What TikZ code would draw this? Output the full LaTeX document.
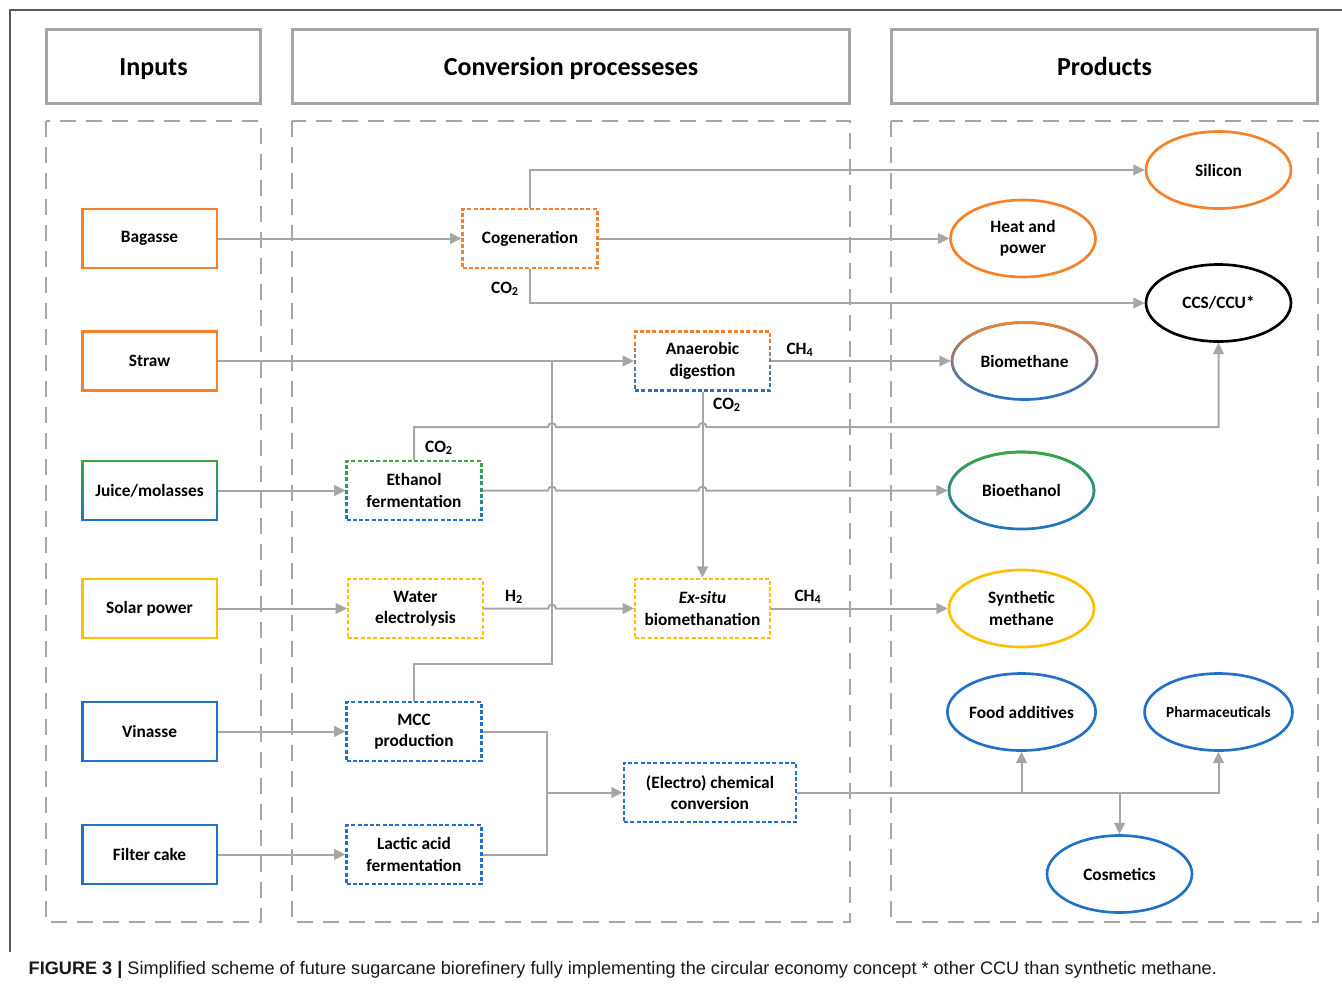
\documentclass[tikz,border=0pt]{standalone}
\usepackage{fontspec}
\setmainfont{Carlito}
\newfontfamily\capfont{Liberation Sans}
\usetikzlibrary{positioning, arrows.meta, shapes.geometric, fadings}

\definecolor{orng}{HTML}{F5822A}
\definecolor{grn}{HTML}{3AAA35}
\definecolor{blu}{HTML}{2271C7}
\definecolor{yel}{HTML}{FFC000}
\definecolor{lgray}{HTML}{A6A6A6}

\tikzset{
    every node/.style={font=\fontsize{13}{16}\selectfont\bfseries, align=center},
    head/.style={draw=lgray, line width=2.25pt, minimum height=55.5pt, text height=18pt, text depth=4pt, font=\fontsize{19.5}{23}\selectfont\bfseries},
    colframe/.style={draw=lgray, line width=2pt, dash pattern=on 12pt off 7.5pt},
    inbox/.style={draw=#1, line width=2pt, minimum width=101pt, minimum height=44.25pt, inner sep=0pt},
    procbox/.style={draw=#1, line width=1.8pt, dash pattern=on 3pt off 1.7pt, minimum width=101pt, minimum height=44.25pt, inner sep=0pt},
    product/.style={ellipse, draw=#1, line width=2pt, minimum width=108.75pt, minimum height=57.75pt, inner sep=0pt},
    fadetop/.style={postaction={draw=#1, path fading=south}},
    flow/.style={draw=lgray, line width=1.5pt, -{Triangle[length=8.5pt,width=8pt]}},
    link/.style={draw=lgray, line width=1.5pt},
    lbl/.style={font=\fontsize{13}{16}\selectfont\bfseries},
}

\begin{document}
\begin{tikzpicture}[x=0.75pt, y=-0.75pt]
    \useasboundingbox (0,0) rectangle (1342,986);
    \draw[black!65, line width=0.8pt] (10,952) -- (10,10) -- (1342,10);

    % Column headers
    \node[head, minimum width=160.5pt] (hin) at (153.5,66.5) {Inputs};
    \node[head, minimum width=417.75pt] (hconv) at (571,66.5) {Conversion processeses};
    \node[head, minimum width=319.5pt] (hprod) at (1104.5,66.5) {Products};
    \draw[colframe] (46,121) rectangle (261,922);
    \draw[colframe] (292,121) rectangle (850,922);
    \draw[colframe] (891,121) rectangle (1318,922);

    % Inputs
    \node[inbox=orng] (bag) at (149.5,238.5) {Bagasse};
    \node[inbox=orng] (straw) at (149.5,361) {Straw};
    \node[inbox=blu, fadetop=grn] (juice) at (149.5,490.5) {Juice/molasses};
    \node[inbox=yel] (solar) at (149.5,608.5) {Solar power};
    \node[inbox=blu] (vin) at (149.5,731.5) {Vinasse};
    \node[inbox=blu] (filt) at (149.5,854.5) {Filter cake};

    % Conversion processes
    \node[procbox=orng] (cogen) at (530,238.5) {Cogeneration};
    \node[procbox=blu, fadetop=orng] (anaer) at (702.5,361) {Anaerobic\\digestion};
    \node[procbox=blu, fadetop=grn] (ethf) at (414,490.5) {Ethanol\\fermentation};
    \node[procbox=yel] (water) at (415.5,608.5) {Water\\electrolysis};
    \node[procbox=yel] (exsitu) at (702.5,608.5) {\textit{Ex-situ}\\biomethanation};
    \node[procbox=blu] (mcc) at (414,731.5) {MCC\\production};
    \node[procbox=blu] (lactic) at (414,854.5) {Lactic acid\\fermentation};
    \node[procbox=blu, minimum width=129pt] (electro) at (710,792.5) {(Electro) chemical\\conversion};

    % Products
    \node[product=orng] (sil) at (1218.5,170) {Silicon};
    \node[product=orng] (heat) at (1023,238.5) {Heat and\\power};
    \node[product=black] (ccs) at (1218.5,303) {CCS/CCU*};
    \node[product=blu, fadetop=orng] (biometh) at (1024.5,361) {Biomethane};
    \node[product=blu, fadetop=grn] (bioeth) at (1021.5,490.5) {Bioethanol};
    \node[product=yel] (synm) at (1021.5,608.5) {Synthetic\\methane};
    \node[product=blu] (food) at (1021.5,712) {Food additives};
    \node[product=blu, font=\fontsize{11.5}{14}\selectfont\bfseries] (pharma) at (1218.5,712) {Pharmaceuticals};
    \node[product=blu] (cosm) at (1119.5,874) {Cosmetics};

    % Junction points
    \coordinate (mix) at (552,664);
    \coordinate (co2y) at (414,427);
    \coordinate (jn) at (547,792.5);

    % Flows
    \draw[flow] (bag.east) -- (cogen.west);
    \draw[flow] (cogen.north) |- (sil.west);
    \draw[flow] (cogen.east) -- (heat.west);
    \draw[flow] (cogen.south) |- (ccs.west);
    \draw[flow] (straw.east) -- (anaer.west);
    \draw[flow] (anaer.east) -- (biometh.west);
    \draw[flow] (anaer.south) -- (exsitu.north);
    \draw[link] (mcc.north) |- (mix) -- (mix |- straw.east);
    \draw[flow] (ethf.north) -- (co2y) -- ([xshift=-3pt]co2y -| mix) arc[start angle=180, end angle=0, radius=3pt]
        -- ([xshift=-3pt]co2y -| anaer.south) arc[start angle=180, end angle=0, radius=3pt] -| (ccs.south);
    \draw[flow] (juice.east) -- (ethf.west);
    \draw[flow] (ethf.east) -- ([xshift=-3pt]ethf.east -| mix) arc[start angle=180, end angle=0, radius=3pt]
        -- ([xshift=-3pt]ethf.east -| anaer.south) arc[start angle=180, end angle=0, radius=3pt] -- (bioeth.west);
    \draw[flow] (solar.east) -- (water.west);
    \draw[flow] (water.east) -- ([xshift=-3pt]water.east -| mix) arc[start angle=180, end angle=0, radius=3pt] -- (exsitu.west);
    \draw[flow] (exsitu.east) -- (synm.west);
    \draw[flow] (vin.east) -- (mcc.west);
    \draw[flow] (filt.east) -- (lactic.west);
    \draw[link] (mcc.east) -| (jn);
    \draw[link] (lactic.east) -| (jn);
    \draw[flow] (jn) -- (electro.west);
    \draw[flow] (electro.east) -| (pharma.south);
    \draw[flow] (electro.east -| food.south) -- (food.south);
    \draw[flow] (electro.east -| cosm.north) -- (cosm.north);

    % Stream labels
    \node[lbl] (co2cog) at (505,289) {CO\textsubscript{2}};
    \node[lbl] (ch4ad) at (800,350) {CH\textsubscript{4}};
    \node[lbl] (co2ad) at (727,405) {CO\textsubscript{2}};
    \node[lbl] (co2eth) at (439,448) {CO\textsubscript{2}};
    \node[lbl] (h2) at (514,597) {H\textsubscript{2}};
    \node[lbl] (ch4ex) at (808,597) {CH\textsubscript{4}};

    % Caption
    \node[anchor=west, font=\capfont\fontsize{13.6}{16}\selectfont, text=black!90] (cap) at (24,970)
        {\textbf{FIGURE 3 |} Simplified scheme of future sugarcane biorefinery fully implementing the circular economy concept * other CCU than synthetic methane.};
\end{tikzpicture}
\end{document}
